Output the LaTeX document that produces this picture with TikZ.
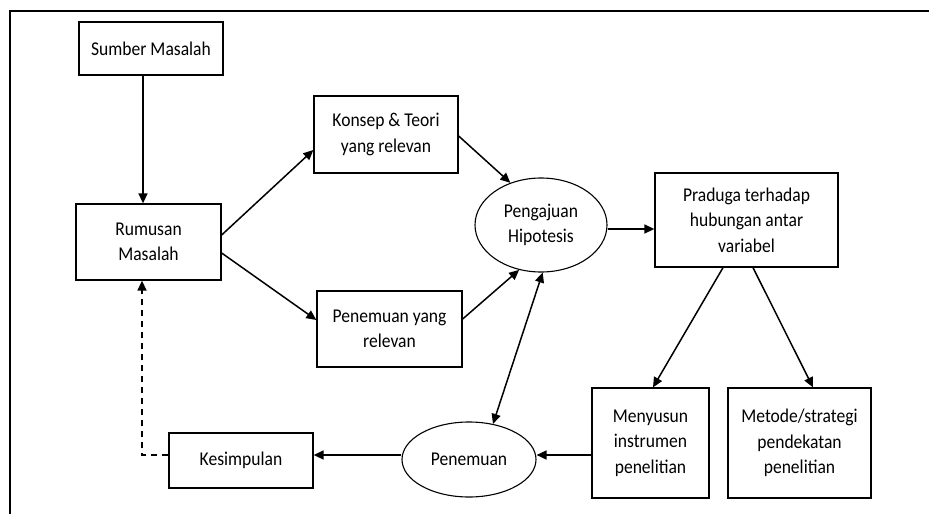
\documentclass[tikz,border=0pt]{standalone}
\usepackage{fontspec}
\setmainfont[FakeStretch=0.9]{Carlito}
\usetikzlibrary{arrows.meta,shapes.geometric,calc}
\begin{document}
\begin{tikzpicture}[x=1pt,y=-1pt,
  every node/.style={font=\fontsize{19.5}{25.5}\selectfont, align=center, inner sep=0pt},
  box/.style={draw, line width=1.3pt, rectangle},
  oval/.style={draw, line width=1.1pt, ellipse},
  conn/.style={line width=1.5pt, -{Triangle[length=10pt,width=9pt]}},
  dconn/.style={line width=1.5pt, {Triangle[length=10pt,width=9pt]}-{Triangle[length=10pt,width=9pt]}},
  dashconn/.style={line width=1.5pt, dash pattern=on 6pt off 5pt, -{Triangle[length=10pt,width=9pt]}}]
\useasboundingbox (0,0) rectangle (929,514);
\draw[line width=1.3pt] (10,514) -- (10,11) -- (929,11);

\node[box, minimum width=144pt, minimum height=53pt] (sum) at (151,48.5) {Sumber Masalah};
\node[box, minimum width=145pt, minimum height=76pt] (rum) at (148.5,242) {Rumusan\\Masalah};
\node[box, minimum width=144pt, minimum height=77pt] (kon) at (386,134.5) {Konsep \& Teori\\yang relevan};
\node[box, minimum width=145pt, minimum height=76pt] (prl) at (389.5,329) {Penemuan yang\\relevan};
\node[oval, minimum width=132pt, minimum height=94pt] (peng) at (541,225) {Pengajuan\\Hipotesis};
\node[box, minimum width=183pt, minimum height=94pt] (pra) at (746.5,220) {Praduga terhadap\\hubungan antar\\variabel};
\node[box, minimum width=117pt, minimum height=110pt] (men) at (650.5,443) {Menyusun\\instrumen\\penelitian};
\node[box, minimum width=143pt, minimum height=110pt] (met) at (799.5,443) {Metode/strategi\\pendekatan\\penelitian};
\node[oval, minimum width=134pt, minimum height=75pt] (pen) at (469,459.5) {Penemuan};
\node[box, minimum width=144pt, minimum height=55pt] (kes) at (241,460.5) {Kesimpulan};

\coordinate (sumout) at ($(sum.south)+(-8,0)$);
\coordinate (menout) at ($(men.west)+(0,12)$);
\coordinate (penout) at ($(pen.west)+(0,-4.5)$);
\coordinate (kesout) at ($(kes.west)+(0,-5.5)$);
\coordinate (rumin) at ($(rum.south)+(-6.5,0)$);

\draw[conn] (sumout) -- (sumout |- rum.north);
\draw[conn] ($(rum.east)+(0,-7)$) -- ($(kon.west)+(0,15.5)$);
\draw[conn] ($(rum.east)+(0,11)$) -- ($(prl.west)+(0,-9)$);
\draw[conn] ($(kon.east)+(0,1.5)$) -- (peng.126);
\draw[conn] ($(prl.east)+(0,-10)$) -- (peng.244);
\draw[dconn] (peng.272) -- (pen.56);
\draw[conn] ($(peng.east)+(0,4)$) -- ($(pra.west)+(0,9)$);
\draw[conn] ($(pra.south)+(-23.5,0)$) -- ($(men.north)+(2.5,0)$);
\draw[conn] ($(pra.south)+(6.5,0)$) -- ($(met.north)+(13.5,0)$);
\draw[conn] (menout) -- (menout -| pen.east);
\draw[conn] (penout) -- (penout -| kes.east);
\draw[dashconn] (kesout) -| (rumin);
\end{tikzpicture}
\end{document}
